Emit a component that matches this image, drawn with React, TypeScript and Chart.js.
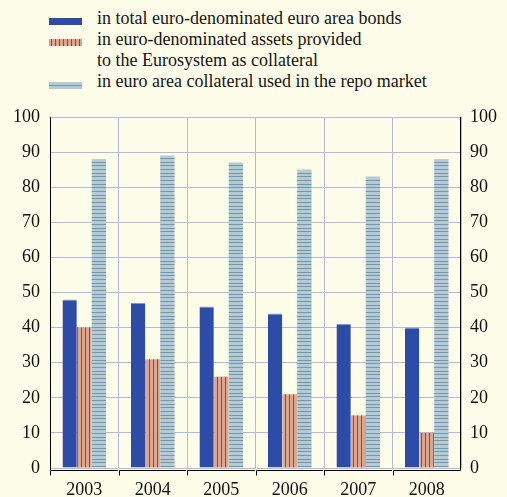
import React, { useEffect, useRef } from "react";
import { Chart, registerables } from "chart.js";
Chart.register(...registerables);

const years = ["2003", "2004", "2005", "2006", "2007", "2008"];
const totalBonds = [48, 47, 46, 44, 41, 40];
const eurosystemCollateral = [40, 31, 26, 21, 15, 10];
const repoCollateral = [88, 89, 87, 85, 83, 88];
const legendLabels = [
  "in total euro-denominated euro area bonds",
  "in euro-denominated assets provided\nto the Eurosystem as collateral",
  "in euro area collateral used in the repo market",
];
const yMin = 0;
const yMax = 100;
const yStep = 10;

const BG = "#fdfde9";
const GRID = "#b3b8e6";
const BLUE = "#2c4ca8";
const FONT = "'Liberation Serif', 'Times New Roman', serif";

function redPattern(): CanvasPattern | string {
  const c = document.createElement("canvas");
  c.width = 4;
  c.height = 2;
  const g = c.getContext("2d")!;
  g.fillStyle = "#dca58f";
  g.fillRect(0, 0, 4, 2);
  g.fillStyle = "#bb3a2a";
  g.fillRect(1, 0, 1, 2);
  return g.createPattern(c, "repeat") || "#dca58f";
}

function repoPattern(): CanvasPattern | string {
  const c = document.createElement("canvas");
  c.width = 2;
  c.height = 11;
  const g = c.getContext("2d")!;
  g.fillStyle = "#b7c9d3";
  g.fillRect(0, 0, 2, 11);
  g.fillStyle = "#6c99ae";
  g.fillRect(0, 0, 2, 1);
  g.fillRect(0, 4, 2, 1);
  g.fillRect(0, 8, 2, 1);
  return g.createPattern(c, "repeat") || "#b7c9d3";
}

const axisPlugin = {
  id: "bracketAxis",
  afterDraw(chart: any) {
    const { ctx, chartArea } = chart;
    const n = years.length;
    const w = (chartArea.right - chartArea.left) / n;
    const y0 = Math.round(chartArea.bottom) + 2.5;
    ctx.save();
    ctx.strokeStyle = "#000";
    ctx.lineWidth = 1;
    ctx.beginPath();
    const lx = Math.round(chartArea.left) + 0.5;
    const rx = Math.round(chartArea.right) - 0.5;
    ctx.moveTo(lx, chartArea.top);
    ctx.lineTo(lx, y0);
    ctx.moveTo(rx, chartArea.top);
    ctx.lineTo(rx, y0);
    for (let i = 0; i < n; i++) {
      const left = Math.round(chartArea.left + i * w) + 0.5;
      const right = Math.round(chartArea.left + (i + 1) * w) - 1;
      ctx.moveTo(left, y0 + 5);
      ctx.lineTo(left, y0);
      ctx.lineTo(i === n - 1 ? rx : right, y0);
    }
    ctx.stroke();
    ctx.restore();
  },
};

const swatchBase: React.CSSProperties = { position: "absolute", left: 49, width: 33 };
const swatches: React.CSSProperties[] = [
  { ...swatchBase, top: 18, height: 7, background: BLUE },
  {
    ...swatchBase,
    top: 39,
    height: 7,
    background:
      "repeating-linear-gradient(90deg, #dca58f 0px, #dca58f 2px, #bb3a2a 2px, #bb3a2a 3px, #dca58f 3px, #dca58f 4px)",
  },
  {
    ...swatchBase,
    top: 82,
    height: 7,
    background: "linear-gradient(180deg, #b7c9d3 0px, #b7c9d3 3px, #6c99ae 3px, #6c99ae 4px, #b7c9d3 4px)",
  },
];
const textTops = [8.4, 29.2, 70.8];

export default function App() {
  const ref = useRef<HTMLCanvasElement>(null);
  useEffect(() => {
    if (!ref.current) return;
    const tickFont = { family: FONT, size: 18 };
    const chart = new Chart(ref.current, {
      type: "bar",
      data: {
        labels: years,
        datasets: [
          {
            label: legendLabels[0],
            data: totalBonds,
            backgroundColor: BLUE,
            borderColor: "#8196d4",
            borderWidth: { top: 1, left: 0, right: 0, bottom: 0 },
            borderSkipped: false,
            categoryPercentage: 0.64,
            barPercentage: 0.98,
          },
          {
            label: legendLabels[1],
            data: eurosystemCollateral,
            backgroundColor: redPattern() as any,
            borderWidth: 0,
            categoryPercentage: 0.64,
            barPercentage: 0.98,
          },
          {
            label: legendLabels[2],
            data: repoCollateral,
            backgroundColor: repoPattern() as any,
            borderWidth: 0,
            categoryPercentage: 0.64,
            barPercentage: 0.98,
          },
        ],
      },
      options: {
        responsive: false,
        animation: false,
        layout: { padding: { top: 117, left: 0, right: 0, bottom: 0 } },
        plugins: { legend: { display: false }, tooltip: { enabled: false } },
        scales: {
          x: {
            grid: { color: GRID, offset: true, drawTicks: false },
            border: { display: false },
            ticks: { font: tickFont, color: "#111", padding: 11 },
            afterFit: (s: any) => {
              s.height = 29;
            },
          },
          y: {
            position: "left",
            min: yMin,
            max: yMax,
            grid: { color: GRID, drawTicks: false },
            border: { display: false },
            ticks: { stepSize: yStep, font: tickFont, color: "#111", padding: 10 },
            afterFit: (s: any) => {
              s.width = 50;
            },
          },
          y1: {
            position: "right",
            min: yMin,
            max: yMax,
            grid: { display: false, drawTicks: false },
            border: { display: false },
            ticks: { stepSize: yStep, font: tickFont, color: "#111", padding: 9 },
            afterFit: (s: any) => {
              s.width = 46;
            },
          },
        },
      },
      plugins: [axisPlugin],
    });
    return () => chart.destroy();
  }, []);

  const textStyle: React.CSSProperties = {
    position: "absolute",
    left: 97,
    fontFamily: FONT,
    fontSize: 18,
    lineHeight: "20.8px",
    color: "#151515",
    whiteSpace: "pre",
    margin: 0,
  };

  return (
    <div style={{ position: "fixed", left: 0, top: 0, width: 507, height: 497, background: BG, overflow: "hidden" }}>
      {swatches.map((st, i) => (
        <div key={"s" + i} style={st} />
      ))}
      {legendLabels.map((l, i) => (
        <div key={"t" + i} style={{ ...textStyle, top: textTops[i] }}>
          {l}
        </div>
      ))}
      <canvas ref={ref} width={507} height={497} style={{ position: "absolute", left: 0, top: 0 }} />
    </div>
  );
}
